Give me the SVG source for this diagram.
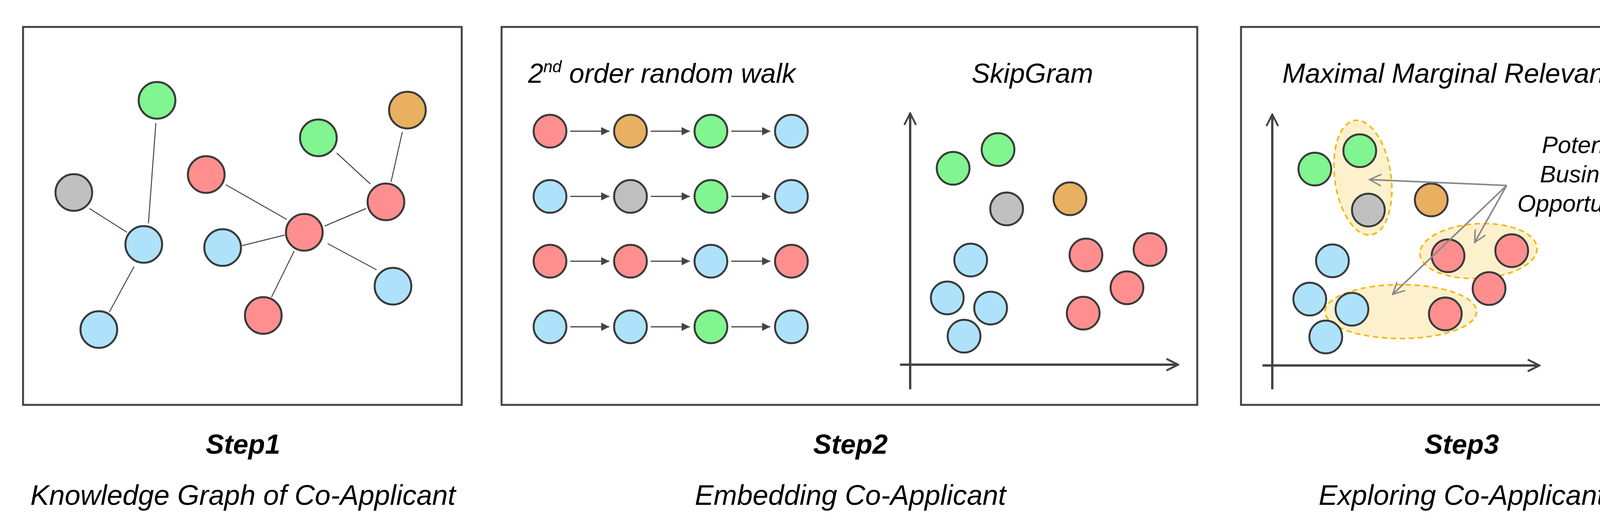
<svg xmlns="http://www.w3.org/2000/svg" width="4371" height="1360" viewBox="0 0 4371 1360">
<style>
.frame{fill:#fff;stroke:#444;stroke-width:5}
.n{stroke:#3a3a3a;stroke-width:5}
.r{fill:#ff8f8f}.g{fill:#80f590}.b{fill:#aee2fb}.y{fill:#c0c0c0}.o{fill:#e8b060}
.e{stroke:#444;stroke-width:2.5}
.w{stroke:#444;stroke-width:3;marker-end:url(#fa)}
.ax{stroke:#444;stroke-width:6;fill:none;marker-end:url(#oa)}
.ga{stroke:#888;stroke-width:4;fill:none;marker-end:url(#ga)}
.el{fill:#fdeec4;fill-opacity:0.85;stroke:#f5b700;stroke-width:4;stroke-dasharray:14 9}
text{font-family:"Liberation Sans",Arial,sans-serif;font-style:italic;fill:#000}
.step{font-weight:bold;font-size:70px;text-anchor:middle}
.sub{font-size:72px;text-anchor:middle}
.ttl{font-size:70px}
.pbo{font-size:61px;text-anchor:middle}
</style>
<defs>
<marker id="fa" viewBox="0 0 10 10" refX="10" refY="5" markerWidth="7" markerHeight="7" orient="auto" markerUnits="strokeWidth"><path d="M0,0 L10,5 L0,10 Z" fill="#444"/></marker>
<marker id="oa" viewBox="0 0 12 12" refX="11" refY="6" markerWidth="6" markerHeight="6" orient="auto" markerUnits="strokeWidth"><path d="M1,1 L11,6 L1,11" fill="none" stroke="#444" stroke-width="1.6"/></marker>
<marker id="ga" viewBox="0 0 12 12" refX="11" refY="6" markerWidth="9" markerHeight="9" orient="auto" markerUnits="strokeWidth"><path d="M1,1 L11,6 L1,11" fill="none" stroke="#888" stroke-width="1.2"/></marker>
</defs>

<rect class="frame" x="59" y="69" width="1123" height="968"/>
<rect class="frame" x="1284" y="69" width="1781" height="968"/>
<rect class="frame" x="3177" y="69" width="1124" height="968"/>

<g id="connectors">
<line class="e" x1="399" y1="315" x2="380" y2="572"/>
<line class="e" x1="229" y1="534" x2="325" y2="595"/>
<line class="e" x1="343" y1="683" x2="280" y2="799"/>
<line class="e" x1="578" y1="473" x2="734" y2="562"/>
<line class="e" x1="620" y1="629" x2="729" y2="602"/>
<line class="e" x1="831" y1="579" x2="937" y2="534"/>
<line class="e" x1="753" y1="643" x2="695" y2="761"/>
<line class="e" x1="839" y1="624" x2="964" y2="691"/>
<line class="e" x1="862" y1="392" x2="948" y2="471"/>
<line class="e" x1="1030" y1="338" x2="1001" y2="466"/>
<g>
<line class="w" x1="1460" y1="336" x2="1560" y2="336"/><line class="w" x1="1666" y1="336" x2="1766" y2="336"/><line class="w" x1="1872" y1="336" x2="1972" y2="336"/>
<line class="w" x1="1460" y1="503" x2="1560" y2="503"/><line class="w" x1="1666" y1="503" x2="1766" y2="503"/><line class="w" x1="1872" y1="503" x2="1972" y2="503"/>
<line class="w" x1="1460" y1="669" x2="1560" y2="669"/><line class="w" x1="1666" y1="669" x2="1766" y2="669"/><line class="w" x1="1872" y1="669" x2="1972" y2="669"/>
<line class="w" x1="1460" y1="837" x2="1560" y2="837"/><line class="w" x1="1666" y1="837" x2="1766" y2="837"/><line class="w" x1="1872" y1="837" x2="1972" y2="837"/>
</g>
<path class="ax" d="M2330,997 V290"/>
<path class="ax" d="M2304,934 H3016"/>
<path class="ax" d="M3257,997 V293"/>
<path class="ax" d="M3232,936 H3941"/>
</g>

<g id="ellipses">
<ellipse class="el" cx="3489" cy="455" rx="72" ry="148" transform="rotate(-8 3489 455)"/>
<ellipse class="el" cx="3785" cy="643" rx="150" ry="70" transform="rotate(-3 3785 643)"/>
<ellipse class="el" cx="3586" cy="798" rx="194" ry="69"/>
</g>

<g id="step1-nodes">
<circle id="n1" class="n g" cx="402" cy="257" r="47"/>
<circle id="n2" class="n y" cx="189" cy="493" r="47"/>
<circle id="n3" class="n b" cx="368" cy="626" r="47"/>
<circle id="n4" class="n b" cx="253" cy="844" r="47"/>
<circle id="n5" class="n r" cx="528" cy="447" r="47"/>
<circle id="n6" class="n b" cx="570" cy="634" r="47"/>
<circle id="n7" class="n r" cx="779" cy="595" r="47"/>
<circle id="n8" class="n r" cx="674" cy="808" r="47"/>
<circle id="n9" class="n g" cx="815" cy="353" r="47"/>
<circle id="n10" class="n o" cx="1043" cy="282" r="47"/>
<circle id="n11" class="n r" cx="988" cy="517" r="47"/>
<circle id="n12" class="n b" cx="1006" cy="733" r="47"/>
</g>

<g id="walk-nodes">
<circle class="n r" cx="1408" cy="336" r="42"/><circle class="n o" cx="1614" cy="336" r="42"/><circle class="n g" cx="1820" cy="336" r="42"/><circle class="n b" cx="2026" cy="336" r="42"/>
<circle class="n b" cx="1408" cy="503" r="42"/><circle class="n y" cx="1614" cy="503" r="42"/><circle class="n g" cx="1820" cy="503" r="42"/><circle class="n b" cx="2026" cy="503" r="42"/>
<circle class="n r" cx="1408" cy="669" r="42"/><circle class="n r" cx="1614" cy="669" r="42"/><circle class="n b" cx="1820" cy="669" r="42"/><circle class="n r" cx="2026" cy="669" r="42"/>
<circle class="n b" cx="1408" cy="837" r="42"/><circle class="n b" cx="1614" cy="837" r="42"/><circle class="n g" cx="1820" cy="837" r="42"/><circle class="n b" cx="2026" cy="837" r="42"/>
</g>

<g id="skipgram-nodes">
<circle class="n g" cx="2440" cy="431" r="42"/><circle class="n g" cx="2555" cy="383" r="42"/>
<circle class="n y" cx="2577" cy="535" r="42"/><circle class="n o" cx="2739" cy="509" r="42"/>
<circle class="n b" cx="2485" cy="666" r="42"/><circle class="n b" cx="2425" cy="763" r="42"/>
<circle class="n b" cx="2536" cy="789" r="42"/><circle class="n b" cx="2468" cy="861" r="42"/>
<circle class="n r" cx="2780" cy="653" r="42"/><circle class="n r" cx="2944" cy="639" r="42"/>
<circle class="n r" cx="2885" cy="737" r="42"/><circle class="n r" cx="2773" cy="802" r="42"/>
</g>

<g id="mmr-nodes">
<circle class="n g" cx="3366" cy="433" r="42"/><circle class="n g" cx="3481" cy="386" r="42"/>
<circle class="n y" cx="3503" cy="538" r="42"/><circle class="n o" cx="3664" cy="512" r="42"/>
<circle class="n b" cx="3411" cy="668" r="42"/><circle class="n b" cx="3353" cy="766" r="42"/>
<circle class="n b" cx="3461" cy="792" r="42"/><circle class="n b" cx="3394" cy="863" r="42"/>
<circle class="n r" cx="3707" cy="655" r="42"/><circle class="n r" cx="3870" cy="642" r="42"/>
<circle class="n r" cx="3812" cy="739" r="42"/><circle class="n r" cx="3700" cy="804" r="42"/>
</g>

<g id="opportunity-arrows">
<line class="ga" x1="3857" y1="475" x2="3506" y2="460"/>
<line class="ga" x1="3857" y1="475" x2="3775" y2="621"/>
<line class="ga" x1="3857" y1="475" x2="3565" y2="754"/>
</g>

<g id="labels">
<text class="ttl" x="1352" y="212">2<tspan font-size="42" dy="-27">nd</tspan><tspan dy="27"> order random walk</tspan></text>
<text class="ttl" x="2643" y="212" text-anchor="middle">SkipGram</text>
<text class="ttl" x="3732" y="212" text-anchor="middle">Maximal Marginal Relevance</text>
<text class="pbo" x="4066" y="392">Potential</text>
<text class="pbo" x="4066" y="467">Business</text>
<text class="pbo" x="4066" y="542">Opportunities</text>
<text class="step" x="622" y="1162">Step1</text>
<text class="sub" x="622" y="1293">Knowledge Graph of Co-Applicant</text>
<text class="step" x="2177" y="1162">Step2</text>
<text class="sub" x="2177" y="1293">Embedding Co-Applicant</text>
<text class="step" x="3742" y="1162">Step3</text>
<text class="sub" x="3742" y="1293">Exploring Co-Applicant</text>
</g>
</svg>
